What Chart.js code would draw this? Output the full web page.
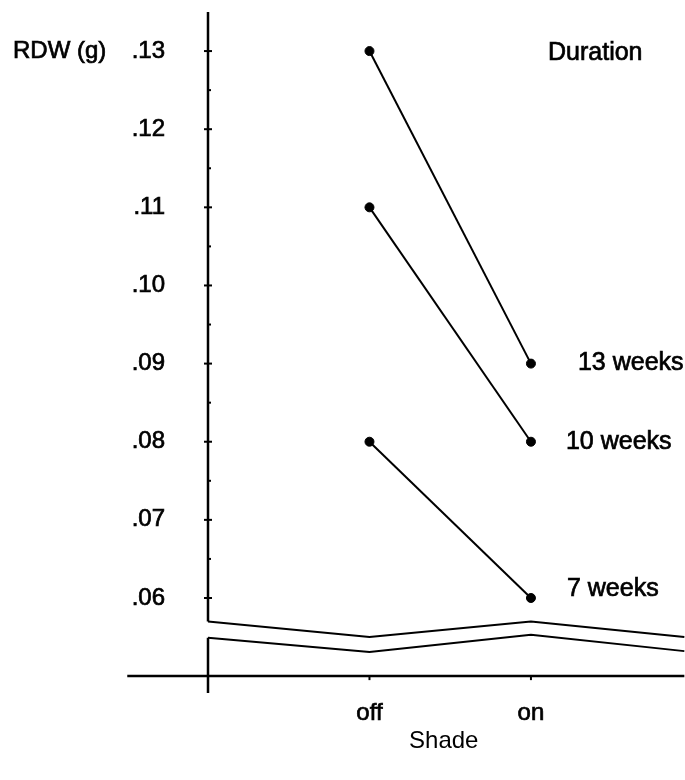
<!DOCTYPE html>
<html>
<head>
<meta charset="utf-8">
<script src="https://cdn.jsdelivr.net/npm/chart.js@4/dist/chart.umd.min.js"></script>
<style>
  html, body { margin: 0; padding: 0; background: #ffffff; }
</style>
</head>
<body>
<canvas id="c" width="685" height="780"></canvas>
<script>
// Shade treatment levels on the x axis
const shadeLevels = ['off', 'on'];
// Root dry weight (g) for each shading duration
const durationNames = ['13 weeks', '10 weeks', '7 weeks'];
const rdw13 = [0.13, 0.09];
const rdw10 = [0.11, 0.08];
const rdw7 = [0.08, 0.06];
// Y tick values shown on the axis
const yTicks = [0.06, 0.07, 0.08, 0.09, 0.10, 0.11, 0.12, 0.13];
// Axis break (zigzag) and the value of the horizontal base line
const breakX = [0, 1, 2, 2.95];
const breakUpper = [0.0570, 0.0550, 0.0570, 0.0550];
const breakLower = [0.0549, 0.0531, 0.0553, 0.0532];
const baselineValue = 0.05;
const baselineX = [-0.5, 2.95];

const Y_MIN = 0.04784, Y_MAX = 0.1350;
const X_MIN = 0, X_MAX = 2.92;
const FONT = "'Liberation Sans', Arial, sans-serif";
const INK = '#000000';
const TEXT_STROKE = 0.7;

const toPts = (vals) => vals.map((v, i) => ({ x: i + 1, y: v }));

function seriesDataset(vals) {
  return {
    data: toPts(vals),
    showLine: true,
    borderColor: INK,
    borderWidth: 2,
    pointRadius: 4.5,
    pointBackgroundColor: INK,
    pointBorderColor: INK,
    pointBorderWidth: 1,
    clip: false
  };
}

function plainLine(pts, width) {
  return {
    data: pts,
    showLine: true,
    borderColor: INK,
    borderWidth: width,
    pointRadius: 0,
    pointHoverRadius: 0,
    clip: false
  };
}

// Annotation offsets (pixels) relative to the "on" point of each series
const labelOffsets = [
  { dx: 47, dy: 0 },
  { dx: 35, dy: 0 },
  { dx: 36, dy: -9 }
];

function drawText(ctx, text, px, py) {
  ctx.fillText(text, px, py);
  ctx.strokeText(text, px, py);
}

const decorations = {
  id: 'decorations',
  afterDatasetsDraw(chart) {
    const { ctx, scales: { x, y } } = chart;
    ctx.save();
    ctx.strokeStyle = INK;
    ctx.fillStyle = INK;
    ctx.lineWidth = 2;
    const x0 = x.getPixelForValue(0);
    // y tick marks (major crossing the axis, minor halfway)
    yTicks.forEach((v, i) => {
      const py = y.getPixelForValue(v);
      ctx.beginPath();
      ctx.moveTo(x0 - 4, py);
      ctx.lineTo(x0 + 4, py);
      ctx.stroke();
      if (i < yTicks.length - 1) {
        const pm = y.getPixelForValue((v + yTicks[i + 1]) / 2);
        ctx.beginPath();
        ctx.moveTo(x0, pm);
        ctx.lineTo(x0 + 3, pm);
        ctx.stroke();
      }
    });
    // tick marks on the base line
    const pb = y.getPixelForValue(baselineValue);
    shadeLevels.forEach((_, i) => {
      const px = x.getPixelForValue(i + 1);
      ctx.beginPath();
      ctx.moveTo(px, pb);
      ctx.lineTo(px, pb + 4);
      ctx.stroke();
    });
    // text labels
    ctx.lineWidth = TEXT_STROKE;
    ctx.textBaseline = 'middle';
    ctx.textAlign = 'left';
    ctx.font = `24px ${FONT}`;
    drawText(ctx, 'RDW (g)', 13, y.getPixelForValue(0.13));
    ctx.font = `25px ${FONT}`;
    drawText(ctx, 'Duration', 548, y.getPixelForValue(0.13) + 2);
    [rdw13, rdw10, rdw7].forEach((vals, i) => {
      const px = x.getPixelForValue(2) + labelOffsets[i].dx;
      const py = y.getPixelForValue(vals[1]) + labelOffsets[i].dy;
      drawText(ctx, durationNames[i], px, py);
    });
    ctx.restore();
  }
};

new Chart(document.getElementById('c'), {
  type: 'scatter',
  data: {
    datasets: [
      seriesDataset(rdw13),
      seriesDataset(rdw10),
      seriesDataset(rdw7),
      plainLine(breakX.map((bx, i) => ({ x: bx, y: breakUpper[i] })), 2),
      plainLine(breakX.map((bx, i) => ({ x: bx, y: breakLower[i] })), 2),
      // vertical axis, interrupted by the break
      plainLine([{ x: 0, y: Y_MAX }, { x: 0, y: breakUpper[0] }], 2.5),
      plainLine([{ x: 0, y: breakLower[0] }, { x: 0, y: Y_MIN }], 2.5),
      // horizontal base line
      plainLine(baselineX.map(bx => ({ x: bx, y: baselineValue })), 2.5)
    ]
  },
  options: {
    responsive: false,
    animation: false,
    events: [],
    layout: { padding: { top: 12, right: 0, bottom: 0, left: 0 } },
    plugins: {
      legend: { display: false },
      tooltip: { enabled: false }
    },
    scales: {
      x: {
        type: 'linear',
        min: X_MIN,
        max: X_MAX,
        grid: { display: false, drawTicks: false },
        border: { display: false },
        afterBuildTicks: (s) => { s.ticks = shadeLevels.map((_, i) => ({ value: i + 1 })); },
        afterFit: (s) => {
          s.height = 87;
          s.paddingLeft = 0;
          s.paddingRight = 0;
        },
        ticks: {
          color: INK,
          font: { family: FONT, size: 24 },
          padding: 6,
          maxRotation: 0,
          autoSkip: false,
          textStrokeColor: INK,
          textStrokeWidth: TEXT_STROKE,
          callback: (v) => shadeLevels[v - 1]
        },
        title: {
          display: true,
          text: 'Shade',
          color: INK,
          font: { family: FONT, size: 24 },
          padding: { top: 0, bottom: 24 }
        }
      },
      y: {
        type: 'linear',
        min: Y_MIN,
        max: Y_MAX,
        grid: { display: false, drawTicks: false },
        border: { display: false },
        afterBuildTicks: (s) => { s.ticks = yTicks.map(v => ({ value: v })); },
        afterFit: (s) => {
          s.width = 208;
          s.paddingTop = 0;
          s.paddingBottom = 0;
        },
        ticks: {
          color: INK,
          font: { family: FONT, size: 24 },
          padding: 43,
          autoSkip: false,
          textStrokeColor: INK,
          textStrokeWidth: TEXT_STROKE,
          callback: (v) => '.' + String(Math.round(v * 100)).padStart(2, '0')
        }
      }
    }
  },
  plugins: [decorations]
});
</script>
</body>
</html>
